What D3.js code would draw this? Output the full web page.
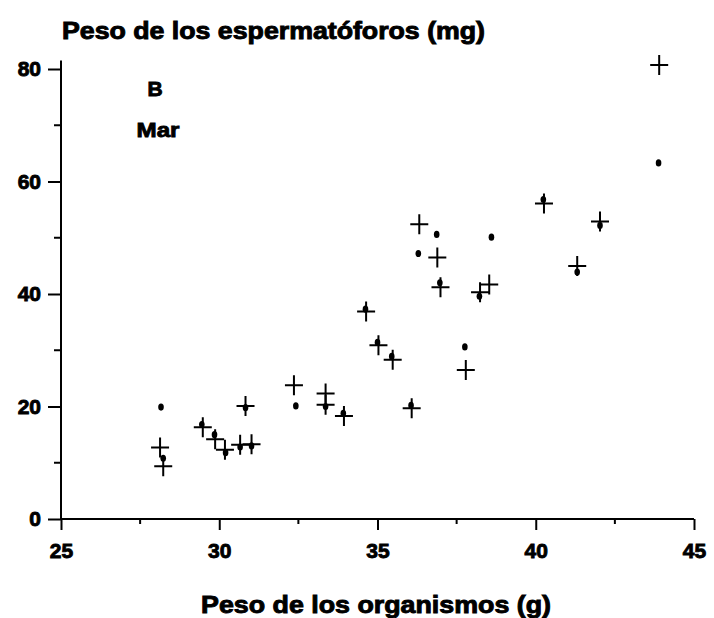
<!DOCTYPE html>
<html>
<head>
<meta charset="utf-8">
<script src="https://cdn.jsdelivr.net/npm/d3@7"></script>
<style>
  body { margin: 0; background: #fff; }
  text { font-family: "Liberation Sans", Arial, sans-serif; font-weight: bold; fill: #000; }
  .heavy { stroke: #000; stroke-width: 0.9px; }
</style>
</head>
<body>
<script>
// organism weight (g) vs spermatophore weight (mg), panel B "Mar"
var crossX = [28.13, 28.23, 29.48, 29.87, 30.18, 30.66, 31.02, 30.83, 32.36, 33.36, 33.36, 33.94, 36.08,
  34.64, 35.03, 35.48, 36.32, 36.89, 36.99, 37.79, 38.24, 38.53, 40.26, 41.31, 42.03, 43.9];
var crossY = [12.7, 9.4, 16.3, 14.2, 12.3, 13.2, 13.3, 20.1, 23.8, 22.3, 20.3, 18.3, 19.7,
  36.9, 30.9, 28.3, 52.4, 46.5, 41.2, 26.5, 40.3, 41.7, 56.1, 45.0, 52.9, 80.7];

var dotX = [28.16, 28.23, 29.45, 29.85, 30.2, 30.66, 31.02, 30.83, 32.42, 33.36, 33.92, 36.06,
  34.62, 35.0, 35.45, 36.29, 36.87, 36.97, 37.76, 38.22, 38.6, 40.24, 41.31, 42.03, 43.88];
var dotY = [19.9, 10.8, 16.8, 15.0, 11.8, 12.8, 13.0, 19.8, 20.1, 20.0, 18.8, 20.2,
  37.3, 31.4, 28.9, 47.2, 50.6, 42.0, 30.6, 39.6, 50.1, 56.8, 43.9, 52.2, 63.3];

var xTicks = [25, 30, 35, 40, 45];
var yTicks = [0, 20, 40, 60, 80];

var width = 714, height = 618;

var x = d3.scaleLinear().domain([25, 45]).range([61, 694]);
var y = d3.scaleLinear().domain([0, 80]).range([519, 69]);

var svg = d3.select("body").append("svg")
  .attr("width", width)
  .attr("height", height);

var xAxis = svg.append("g")
  .attr("transform", "translate(0," + y(0) + ")")
  .call(d3.axisBottom(x).tickValues(xTicks).tickSize(11).tickPadding(13).tickFormat(d3.format("d")));
var yAxis = svg.append("g")
  .attr("transform", "translate(" + x(25) + ",0)")
  .call(d3.axisLeft(y).tickValues(yTicks).tickSize(13).tickPadding(7).tickFormat(d3.format("d")));

// minor ticks
svg.append("g").selectAll("line")
  .data(d3.range(27.5, 45, 5))
  .join("line")
  .attr("x1", function(d) { return x(d); })
  .attr("x2", function(d) { return x(d); })
  .attr("y1", y(0)).attr("y2", y(0) + 5);
svg.append("g").selectAll("line")
  .data(d3.range(10, 80, 20))
  .join("line")
  .attr("x1", x(25) - 7).attr("x2", x(25))
  .attr("y1", function(d) { return y(d); })
  .attr("y2", function(d) { return y(d); });

svg.selectAll("line, .domain").attr("stroke", "#000").attr("stroke-width", 2);
svg.selectAll(".domain").attr("d", null);
xAxis.append("line").attr("x1", x(25)).attr("x2", x(45)).attr("y1", 0).attr("y2", 0)
  .attr("stroke", "#000").attr("stroke-width", 2);
yAxis.append("line").attr("x1", 0).attr("x2", 0).attr("y1", y(0)).attr("y2", y(81.5))
  .attr("stroke", "#000").attr("stroke-width", 2);

svg.selectAll(".tick text")
  .attr("class", "heavy")
  .style("font-size", "21px")
  .style("font-family", "'Liberation Sans', Arial, sans-serif")
  .style("font-weight", "bold")
  .attr("fill", "#000");

// titles
svg.append("text")
  .attr("class", "heavy")
  .attr("x", 62).attr("y", 39)
  .attr("textLength", 423)
  .attr("lengthAdjust", "spacingAndGlyphs")
  .style("font-size", "23px")
  .text("Peso de los espermatóforos (mg)");
svg.append("text")
  .attr("class", "heavy")
  .attr("x", 376).attr("y", 613)
  .attr("text-anchor", "middle")
  .attr("textLength", 350)
  .attr("lengthAdjust", "spacingAndGlyphs")
  .style("font-size", "23px")
  .text("Peso de los organismos (g)");
svg.append("text")
  .attr("class", "heavy")
  .attr("x", 155).attr("y", 96)
  .attr("text-anchor", "middle")
  .style("font-size", "21px")
  .text("B");
svg.append("text")
  .attr("class", "heavy")
  .attr("x", 158).attr("y", 137)
  .attr("text-anchor", "middle")
  .attr("textLength", 43)
  .attr("lengthAdjust", "spacingAndGlyphs")
  .style("font-size", "21px")
  .text("Mar");

// markers
svg.append("g").selectAll("path")
  .data(d3.zip(crossX, crossY))
  .join("path")
  .attr("d", function(d) {
    var cx = x(d[0]), cy = y(d[1]);
    return "M" + (cx - 9) + "," + cy + "H" + (cx + 9) + "M" + cx + "," + (cy - 10) + "V" + (cy + 10);
  })
  .attr("stroke", "#000")
  .attr("stroke-width", 2)
  .attr("fill", "none");

svg.append("g").selectAll("ellipse")
  .data(d3.zip(dotX, dotY))
  .join("ellipse")
  .attr("cx", function(d) { return x(d[0]); })
  .attr("cy", function(d) { return y(d[1]); })
  .attr("rx", 2.8)
  .attr("ry", 3.6)
  .attr("fill", "#000");
</script>
</body>
</html>
